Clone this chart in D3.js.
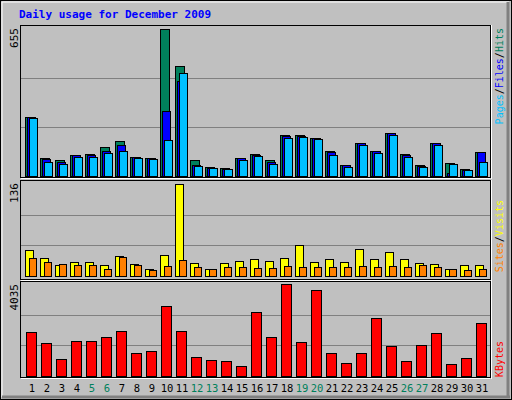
<!DOCTYPE html>
<html><head><script src="https://cdn.jsdelivr.net/npm/d3@7"></script>
<style>body{margin:0;background:#fff}</style></head><body>
<script>
const days = d3.range(1,32);
const weekend = [5,6,12,13,19,20,26,27];
const hits  = [264,82,73,95,99,130,157,86,82,655,491,73,41,37,82,99,73,184,184,170,113,50,148,113,193,99,50,148,59,33,108];
const files = [264,77,64,95,95,113,139,86,82,290,424,50,37,33,82,95,64,179,179,170,108,50,148,113,193,95,46,148,15,28,108];
const pages = [259,64,55,86,86,104,113,82,77,162,459,46,37,33,73,90,55,170,175,166,95,41,139,104,184,86,41,139,55,28,64];
const visits = [38,27,16,20,21,16,30,18,10,31,136,19,10,19,22,25,22,27,46,21,25,21,40,25,36,25,19,18,10,16,16];
const sites  = [27,21,18,16,16,10,28,16,9,15,24,13,10,13,13,12,12,15,13,13,13,13,15,13,15,13,16,13,10,9,10];
const kbytes = [1914,1428,766,1517,1517,1694,1958,987,1075,3063,1958,854,722,677,456,2798,1694,4035,1473,3770,987,589,987,2533,1296,677,1340,1870,545,810,2312];
const maxLabels = ["655","136","4035"];

const W=512,H=400;
const svg=d3.select("body").append("svg").attr("width",W).attr("height",H);
svg.append("rect").attr("width",W).attr("height",H).attr("fill","#C0C0C0");
svg.append("rect").attr("x",0.5).attr("y",0.5).attr("width",W-1).attr("height",H-1).attr("fill","none").attr("stroke","#000");
svg.append("line").attr("x1",2).attr("x2",2).attr("y1",2).attr("y2",397).attr("stroke","#fff");
svg.append("line").attr("x1",2).attr("x2",509).attr("y1",2).attr("y2",2).attr("stroke","#fff");
svg.append("line").attr("x1",508).attr("x2",508).attr("y1",2).attr("y2",398).attr("stroke","#808080").attr("stroke-width",3);
svg.append("line").attr("x1",2).attr("x2",510).attr("y1",397).attr("y2",397).attr("stroke","#808080").attr("stroke-width",3);

svg.append("text").attr("x",19).attr("y",18).attr("font-family","DejaVu Sans Mono").attr("font-weight","bold")
  .attr("font-size",11).attr("fill","#0000FF").text("Daily usage for December 2009");

const x=d3.scaleBand().domain(days).range([25,25+15*31]).paddingInner(0).paddingOuter(0);
const panels=[{t:25,b:177},{t:180,b:279},{t:281,b:377}];
panels.forEach(p=>{
  svg.append("rect").attr("x",20.5).attr("y",p.t+0.5).attr("width",470).attr("height",p.b-p.t).attr("fill","#C0C0C0").attr("stroke","#000");
  svg.append("line").attr("x1",21).attr("x2",490).attr("y1",p.b+1.5).attr("y2",p.b+1.5).attr("stroke","#fff");
  svg.append("line").attr("x1",491.5).attr("x2",491.5).attr("y1",p.t).attr("y2",p.b+2).attr("stroke","#fff");
});
function grid(y,vals){vals.forEach(v=>svg.append("line").attr("x1",21).attr("x2",490).attr("y1",Math.round(y(v))+0.5).attr("y2",Math.round(y(v))+0.5).attr("stroke","#808080"));}
const y1=d3.scaleLinear().domain([0,655]).range([176,29]);
const y2=d3.scaleLinear().domain([0,136]).range([276,184]);
const y3=d3.scaleLinear().domain([0,4035]).range([376,284]);
grid(y1,[655/3,655*2/3]);grid(y2,[136/3,136*2/3]);grid(y3,[4035/3,4035*2/3]);

function bars(data,y,dx,w,col){
  svg.append("g").selectAll("rect").data(data).join("rect")
   .attr("x",(d,i)=>x(days[i])+dx+0.5).attr("y",d=>Math.round(y(d))+0.5)
   .attr("width",w).attr("height",d=>Math.max(0,Math.round(y(0))-Math.round(y(d))))
   .attr("fill",col).attr("stroke","#000");
}
bars(hits,y1,0,9,"#00805C");bars(files,y1,2,8,"#0000FF");bars(pages,y1,4,8,"#00C0FF");
bars(visits,y2,0,8,"#FFFF00");bars(sites,y2,4,7,"#FF8000");
bars(kbytes,y3,1,10,"#FF0000");

svg.append("g").selectAll("text").data(days).join("text")
 .attr("x",d=>x(d)+7).attr("y",392).attr("text-anchor","middle")
 .attr("font-family","DejaVu Sans Mono").attr("font-size",10.5)
 .attr("fill",d=>weekend.includes(d)?"#00805C":"#000").text(d=>d);

panels.forEach((p,i)=>{
  svg.append("text").attr("transform",`translate(18,${p.t+3}) rotate(-90)`).attr("text-anchor","end")
   .attr("font-family","DejaVu Sans Mono").attr("font-size",11).text(maxLabels[i]);
});
function side(y0,parts){
  const t=svg.append("text").attr("transform",`translate(503,${y0}) rotate(-90)`).attr("text-anchor","end")
   .attr("font-family","DejaVu Sans Mono").attr("font-size",10);
  parts.forEach(([s,c])=>t.append("tspan").attr("fill",c).text(s));
}
side(28,[["Pages","#00C0FF"],["/","#000"],["Files","#0000FF"],["/","#000"],["Hits","#00805C"]]);
side(200,[["Sites","#FF8000"],["/","#000"],["Visits","#FFFF00"]]);
side(341,[["KBytes","#FF0000"]]);
</script></body></html>
